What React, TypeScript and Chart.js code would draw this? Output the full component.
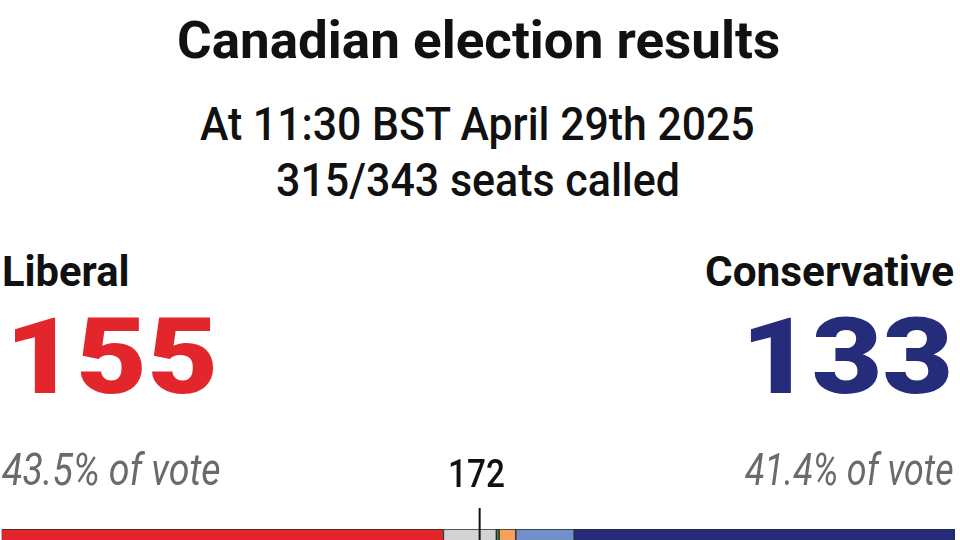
import React, { useEffect, useLayoutEffect, useRef, useState } from "react";
import { Chart, registerables } from "chart.js";

Chart.register(...registerables);

// ---- data ----
const parties = ["Liberal", "Uncalled", "Green", "NDP", "Bloc Québécois", "Conservative"];
const seats = [159, 19, 1, 6, 21, 137];
const partyColors = ["#e3262b", "#d3d3d3", "#3f8e3a", "#f6a05a", "#7190c9", "#252d7a"];
const totalSeats = 343;
const majority = 172;

const titleText = "Canadian election results";
const subtitleLines = ["At 11:30 BST April 29th 2025", "315/343 seats called"];
const leftParty = "Liberal";
const leftSeats = "155";
const leftVote = "43.5% of vote";
const rightParty = "Conservative";
const rightSeats = "133";
const rightVote = "41.4% of vote";

const FONT = "Roboto, 'Liberation Sans', sans-serif";
const ASC = 0.8418; // baseline offset ratio for Roboto with line-height = font-size

type LabelProps = {
  text: string;
  fs: number;
  weight?: number;
  italic?: boolean;
  color?: string;
  left: number;
  right: number;
  baseline: number;
};

function Label({ text, fs, weight = 400, italic = false, color = "#111", left, right, baseline }: LabelProps) {
  const ref = useRef<HTMLSpanElement | null>(null);
  const [sx, setSx] = useState(1);
  useLayoutEffect(() => {
    const el = ref.current;
    if (!el) return;
    const measure = () => {
      const w = el.offsetWidth;
      if (w > 0) setSx((right - left) / w);
    };
    measure();
    if ((document as any).fonts && (document as any).fonts.ready) {
      (document as any).fonts.ready.then(measure);
    }
  }, [text, fs, weight, italic, left, right]);
  return (
    <div
      style={{
        position: "absolute",
        left,
        top: baseline - ASC * fs,
        height: fs,
        whiteSpace: "nowrap",
      }}
    >
      <span
        ref={ref}
        style={{
          display: "inline-block",
          fontFamily: FONT,
          fontSize: fs,
          lineHeight: `${fs}px`,
          fontWeight: weight,
          fontStyle: italic ? "italic" : "normal",
          color,
          transform: `scaleX(${sx})`,
          transformOrigin: "left center",
        }}
      >
        {text}
      </span>
    </div>
  );
}

const majorityLine = {
  id: "majorityLine",
  afterDatasetsDraw(chart: any) {
    const { ctx, scales, chartArea } = chart;
    const x = scales.x.getPixelForValue(majority);
    ctx.save();
    ctx.strokeStyle = "#111";
    ctx.lineWidth = 2;
    ctx.beginPath();
    ctx.moveTo(x, chartArea.top - 21);
    ctx.lineTo(x, chartArea.bottom);
    ctx.stroke();
    ctx.restore();
  },
};

function SeatBar() {
  const canvasRef = useRef<HTMLCanvasElement | null>(null);
  useEffect(() => {
    const canvas = canvasRef.current;
    if (!canvas) return;
    const chart = new Chart(canvas, {
      type: "bar",
      data: {
        labels: ["Seats"],
        datasets: parties.map((p, i) => ({
          label: p,
          data: [seats[i]],
          backgroundColor: partyColors[i],
          borderColor: "#2a2a2a",
          borderWidth: 1,
          borderSkipped: false,
          barPercentage: 1,
          categoryPercentage: 1,
        })),
      },
      options: {
        indexAxis: "y",
        responsive: false,
        animation: false,
        layout: { padding: { left: 1.5, right: 5, top: 89, bottom: 0 } },
        scales: {
          x: { stacked: true, min: 0, max: totalSeats, display: false },
          y: { stacked: true, display: false },
        },
        plugins: {
          legend: { display: false },
          tooltip: { enabled: false },
          title: { display: false },
        },
      },
      plugins: [majorityLine],
    });
    return () => chart.destroy();
  }, []);
  return (
    <canvas
      ref={canvasRef}
      width={960}
      height={120}
      style={{ position: "absolute", left: 0, top: 440, width: 960, height: 120 }}
    />
  );
}

export default function App() {
  return (
    <div
      style={{
        position: "fixed",
        left: 0,
        top: 0,
        width: 960,
        height: 540,
        overflow: "hidden",
        background: "#fff",
      }}
    >
      <SeatBar />
      <Label text={titleText} fs={52} weight={700} left={177} right={780} baseline={59} />
      <Label text={subtitleLines[0]} fs={47} weight={500} left={200} right={755} baseline={140} />
      <Label text={subtitleLines[1]} fs={47} weight={500} left={276} right={680} baseline={196} />

      <Label text={leftParty} fs={43} weight={700} left={2} right={130} baseline={286} />
      <Label text={leftSeats} fs={106} weight={900} color="#e3262b" left={5} right={218} baseline={393} />
      <Label text={leftVote} fs={44} italic color="#6a6a6a" left={2} right={221} baseline={485} />

      <Label text={rightParty} fs={43} weight={700} left={705} right={954} baseline={286} />
      <Label text={rightSeats} fs={106} weight={900} color="#252d7a" left={741} right={953} baseline={393} />
      <Label text={rightVote} fs={44} italic color="#6a6a6a" left={745} right={954} baseline={485} />

      <Label text={String(majority)} fs={38} weight={500} left={448} right={505} baseline={487} />
    </div>
  );
}
